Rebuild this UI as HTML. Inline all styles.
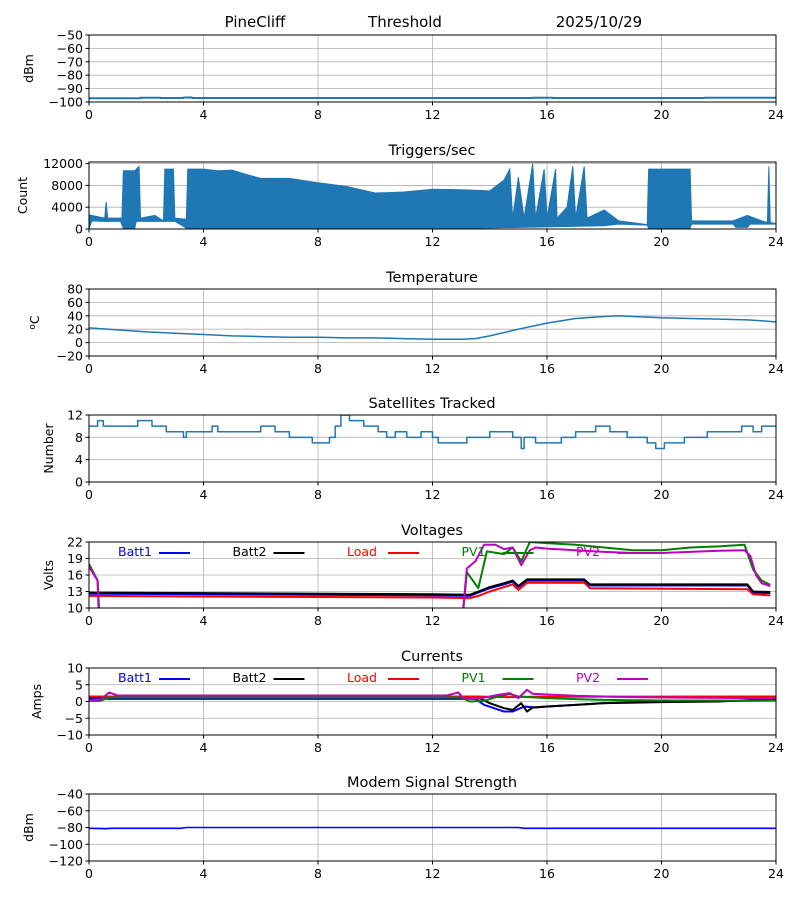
<!DOCTYPE html>
<html><head><meta charset="utf-8"><style>
body{margin:0;background:#fff;}
svg{display:block;font-family:"DejaVu Sans","Liberation Sans",sans-serif;}
</style></head>
<body>
<svg id="fig" width="800" height="900" xmlns="http://www.w3.org/2000/svg">
<text x="255" y="27" font-size="15" text-anchor="middle">PineCliff</text>
<text x="405" y="27" font-size="15" text-anchor="middle">Threshold</text>
<text x="599" y="27" font-size="15" text-anchor="middle">2025/10/29</text>
</svg>
<script>
// ---- data ----
const xTicks = [0,4,8,12,16,20,24];
const sigT = [0,1.8,2.5,3.3,3.6,15,15.5,16.2,18,21,21.5,24];
const sigV = [-97.2,-96.8,-97,-96.6,-97,-97,-96.8,-97,-97,-97,-96.8,-96.9];
const trigHiT = [0,0.55,0.6,0.65,1.15,1.2,1.6,1.75,1.8,2.3,2.6,2.65,2.95,3.0,3.4,3.45,4.0,4.5,5.0,5.5,6.0,7.0,8.0,9.0,10.0,11.0,12.0,13.0,14.0,14.5,14.7,14.8,15.0,15.2,15.5,15.6,15.9,16.0,16.3,16.35,16.7,16.9,17.0,17.3,17.4,18.0,18.5,19.5,19.55,21.0,21.05,22.5,23.0,23.5,23.7,23.75,23.8,24];
const trigHiV = [2600,2000,5000,2000,2000,10700,10700,11500,2000,2500,1500,11000,11000,2000,1800,11000,11000,10700,10800,10000,9300,9300,8500,7800,6600,6800,7300,7200,7000,9000,11000,2000,9500,2000,12000,2000,11000,2000,11000,2000,4000,11500,2000,11500,2000,3500,1500,800,11000,11000,1500,1500,2500,1500,1200,11500,1200,1000];
const trigLoT = [0,0.1,0.5,1.1,1.2,1.6,1.65,3.0,3.4,13.5,18.0,18.5,19.5,19.55,21.0,21.05,22.5,22.6,23.0,23.1,24];
const trigLoV = [0,1500,1400,1400,150,150,1400,1400,150,150,600,900,700,150,150,900,900,300,300,900,900];
const tempT = [0,1,2,3,4,5,6,7,8,9,10,11,12,13,13.5,14,15,16,17,18,18.5,19,20,21,22,23,24];
const tempV = [22,19,16,14,12,10,9,8,8,7,7,6,5,5,6,10,20,29,36,39,40,39,37,36,35,34,31];
const satT = [0,0.3,0.5,1.7,2.2,2.7,3.3,3.4,4.3,4.5,5.0,6.0,6.5,7.0,7.8,8.4,8.6,8.8,9.1,9.6,10.1,10.4,10.7,11.1,11.6,12.0,12.2,12.8,13.2,13.7,14.0,14.8,15.1,15.2,15.6,16.5,17.0,17.7,18.2,18.8,19.5,19.8,20.1,20.8,21.4,21.6,22.2,22.8,23.2,23.5,24];
const satV = [10,11,10,11,10,9,8,9,10,9,9,10,9,8,7,8,10,12,11,10,9,8,9,8,9,8,7,7,8,8,9,8,6,8,7,8,9,10,9,8,7,6,7,8,8,9,9,10,9,10,10];
const b2T = [0,12,13.3,13.6,14,14.5,14.8,15.0,15.3,16,17.3,17.5,20,23,23.2,23.8];
const b2V = [12.8,12.5,12.4,13.0,13.8,14.5,15.0,14.0,15.2,15.2,15.2,14.3,14.3,14.3,13.0,12.9];
const b1V = [12.6,12.3,12.2,12.8,13.6,14.3,14.8,13.8,15.0,15.0,15.0,14.1,14.1,14.1,12.8,12.7];
const loadVT = [0,12,13.3,13.6,14,14.5,14.8,15,15.3,17.3,17.5,23,23.2,23.8];
const loadVV = [12.2,11.9,11.8,12.2,13.0,13.8,14.3,13.3,14.6,14.6,13.6,13.4,12.5,12.3];
const pv1VT = [0,0.3,0.45,12.9,13.2,13.6,13.9,14.5,14.8,15.1,15.4,16,17,18,19,20,21,22,22.9,23.2,23.5,23.8];
const pv1VV = [18,15,0,0,16.5,13.6,20.3,19.8,21.0,18.5,22.0,21.8,21.5,21.0,20.5,20.5,21.0,21.2,21.5,17,15,14.2];
const pv2VT = [0,0.3,0.4,12.9,13.2,13.5,13.8,14.2,14.5,14.8,15.1,15.4,15.6,16,17,18,19,20,21,22,22.9,23.1,23.3,23.5,23.8];
const pv2VV = [17.5,15,0,0,17.2,18.5,21.5,21.5,20.7,21,17.8,20.5,21,20.8,20.5,20.2,20,20,20.2,20.4,20.5,19.5,16,14.5,14];
const b1CT = [0,13.5,13.8,14.5,14.8,15.2,15.6,16,17,18,19,20,24];
const b1CV = [0.8,0.8,-1,-3,-3,-1.5,-1.8,-1.5,-1,-0.5,-0.2,0,0.3];
const b2CT = [0,13.3,13.7,14,14.5,14.8,15.1,15.3,15.5,16,17,18,20,22,24];
const b2CV = [1.3,1.3,0.8,-0.5,-2,-2.5,-0.5,-3,-1.8,-1.5,-1.0,-0.5,-0.2,0,0.8];
const loadCT = [0,13.5,14.5,15.5,24];
const loadCV = [1.5,1.5,1.3,1.4,1.5];
const pv1CT = [0,0.4,0.7,13,13.3,13.8,14.3,14.7,15,15.4,16,17,18,20,24];
const pv1CV = [0.2,0.2,1.2,1.2,0,0.2,1.5,2.2,1.5,1.3,1.0,0.7,0.5,0.3,0.3];
const pv2CT = [0,0.4,0.7,1,12.5,12.9,13.1,13.7,14.3,14.7,15,15.3,15.5,16,17,18,19,20,24];
const pv2CV = [0.5,0.5,2.7,1.8,1.8,2.7,0.8,1,2,2.5,1,3.5,2.3,2.1,1.7,1.5,1.3,1.2,1.0];
const modT = [0,0.6,0.8,3.2,3.4,15,15.2,24];
const modV = [-81,-81.5,-81,-81,-80,-80,-81,-81];
const legendNames = ["Batt1","Batt2","Load","PV1","PV2"];
const legendColors = ["#0000ff","#000000","#ff0000","#008000","#bf00bf"];

// ---- drawing ----
const NS="http://www.w3.org/2000/svg";
const svg=document.getElementById('fig');
const X0=89,X1=776;
function xs(t){return X0+(t/24)*(X1-X0);}
function mk(tag,attrs,parent){const e=document.createElementNS(NS,tag);for(const k in attrs)e.setAttribute(k,attrs[k]);(parent||svg).appendChild(e);return e;}
function panel(o){
  const g=mk('g',{});
  
  
  const ys=v=>o.bot-(v-o.min)/(o.max-o.min)*(o.bot-o.top);
  const t=mk('text',{x:432,y:o.top-7,'font-size':14.5,'text-anchor':'middle'},g);t.textContent=o.title;
  
  
  const grid=mk('g',{stroke:'#b0b0b0','stroke-width':0.8},g);
  
  
  xTicks.forEach(v=>{const x=xs(v);mk('line',{x1:x,x2:x,y1:o.top,y2:o.bot},grid);
    mk('line',{x1:x,x2:x,y1:o.bot,y2:o.bot+3.5,stroke:'#000'},g);
    const l=mk('text',{x:x,y:o.bot+17,'font-size':12.5,'text-anchor':'middle'},g);l.textContent=v;
    
    });
  o.ticks.forEach(v=>{const y=ys(v);mk('line',{x1:X0,x2:X1,y1:y,y2:y},grid);
    mk('line',{x1:X0-3.5,x2:X0,y1:y,y2:y,stroke:'#000'},g);
    const l=mk('text',{x:X0-6,y:y+4.5,'font-size':12.5,'text-anchor':'end'},g);l.textContent=String(v).replace('-','\u2212');
    
    });
  const yl=mk('text',{x:0,y:0,'font-size':12.5,'text-anchor':'middle',transform:`translate(${o.ylx},${(o.top+o.bot)/2}) rotate(-90)`},g);
  yl.innerHTML=o.ylabel;
  
  
  const cid='clip-'+o.name;
  const cp=mk('clipPath',{id:cid},g);mk('rect',{x:X0,y:o.top,width:X1-X0,height:o.bot-o.top},cp);
  const plot=mk('g',{'clip-path':`url(#${cid})`},g);
  o.draw(plot,ys);
  if(o.legend){legendNames.forEach((n,i)=>{const lx=118+i*114.5;const ly=o.top+14;
    const tx=mk('text',{x:lx,y:ly,'font-size':12.5,fill:legendColors[i]},g);tx.textContent=n;
    
    
    mk('line',{x1:lx+41,x2:lx+72,y1:ly-3,y2:ly-3,stroke:legendColors[i],'stroke-width':2},g);});}
  const fr=mk('rect',{x:X0,y:o.top,width:X1-X0,height:o.bot-o.top,fill:'none',stroke:'#000','stroke-width':1},g);
  
  
}
function line(plot,T,V,ys,color,name,w,step){
  let d='';T.forEach((t,i)=>{const x=xs(t),y=ys(V[i]);
    if(i===0)d='M'+x+' '+y;else{ if(step) d+=' L'+x+' '+ys(V[i-1]); d+=' L'+x+' '+y;}});
  const p=mk('path',{d:d,fill:'none',stroke:color,'stroke-width':w||1.5,'stroke-linejoin':'round'},plot);
  
  
}
const tab='#1f77b4';
panel({name:'gps-signal',title:'',top:35,bot:102,min:-100,max:-50,ticks:[-100,-90,-80,-70,-60,-50],ylabel:'dBm',ylx:33,
  draw:(p,ys)=>line(p,sigT,sigV,ys,tab,'gps-signal-line',2,true)});
panel({name:'triggers',title:'Triggers/sec',top:162,bot:229,min:0,max:12300,ticks:[0,4000,8000,12000],ylabel:'Count',ylx:27,
  draw:(p,ys)=>{let d='';trigHiT.forEach((t,i)=>{d+=(i?' L':'M')+xs(t)+' '+ys(trigHiV[i]);});
    for(let i=trigLoT.length-1;i>=0;i--)d+=' L'+xs(trigLoT[i])+' '+ys(trigLoV[i]);d+=' Z';
    const a=mk('path',{d:d,fill:tab,stroke:tab,'stroke-width':1},p);
    
    }});
panel({name:'temperature',title:'Temperature',top:289,bot:356,min:-20,max:80,ticks:[-20,0,20,40,60,80],ylabel:'<tspan font-size="9" dy="-4">o</tspan><tspan dy="4">C</tspan>',ylx:39,
  draw:(p,ys)=>line(p,tempT,tempV,ys,tab,'temperature-line',1.5)});
panel({name:'satellites',title:'Satellites Tracked',top:415,bot:482,min:0,max:12,ticks:[0,4,8,12],ylabel:'Number',ylx:53,
  draw:(p,ys)=>line(p,satT,satV,ys,tab,'satellites-line',1.5,true)});
panel({name:'voltages',title:'Voltages',top:542,bot:608,min:10,max:22,ticks:[10,13,16,19,22],ylabel:'Volts',ylx:53,legend:true,
  draw:(p,ys)=>{line(p,b2T,b1V,ys,'#0000ff','batt1-voltage-line',2);
    line(p,b2T,b2V,ys,'#000','batt2-voltage-line',2);
    line(p,loadVT,loadVV,ys,'#ff0000','load-voltage-line',2);
    line(p,pv1VT,pv1VV,ys,'#008000','pv1-voltage-line',2);
    line(p,pv2VT,pv2VV,ys,'#bf00bf','pv2-voltage-line',2);}});
panel({name:'currents',title:'Currents',top:668,bot:735,min:-10,max:10,ticks:[-10,-5,0,5,10],ylabel:'Amps',ylx:41,legend:true,
  draw:(p,ys)=>{line(p,b1CT,b1CV,ys,'#0000ff','batt1-current-line',2);
    line(p,b2CT,b2CV,ys,'#000','batt2-current-line',2);
    line(p,loadCT,loadCV,ys,'#ff0000','load-current-line',2);
    line(p,pv1CT,pv1CV,ys,'#008000','pv1-current-line',2);
    line(p,pv2CT,pv2CV,ys,'#bf00bf','pv2-current-line',2);}});
panel({name:'modem',title:'Modem Signal Strength',top:794,bot:861,min:-120,max:-40,ticks:[-120,-100,-80,-60,-40],ylabel:'dBm',ylx:33,
  draw:(p,ys)=>line(p,modT,modV,ys,'#0000ff','modem-signal-line',1.5)});
</script>
</body></html>
